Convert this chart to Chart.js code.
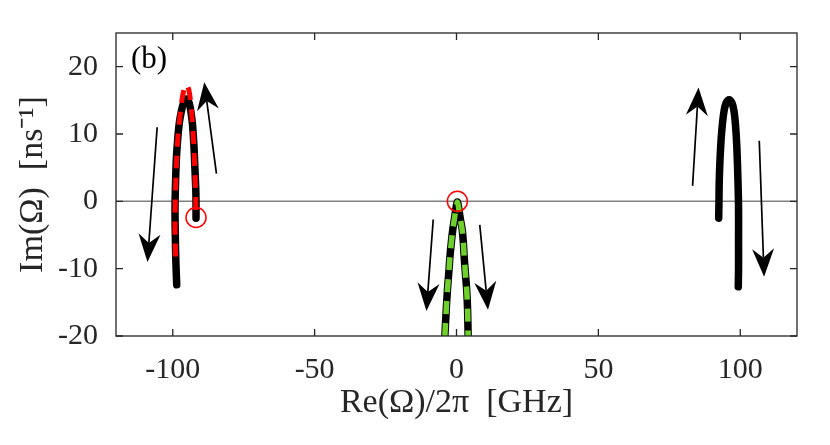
<!DOCTYPE html>
<html><head><meta charset="utf-8">
<script src="https://cdn.jsdelivr.net/npm/chart.js@4.4.1/dist/chart.umd.min.js"></script>
<style>html,body{margin:0;padding:0;background:#fff;}</style>
</head><body>
<canvas id="c" width="830" height="445"></canvas>
<script>
const xTicks = [-100, -50, 0, 50, 100];
const yTicks = [-20, -10, 0, 10, 20];
const xRange = [-120, 120];
const yRange = [-20, 25];

const leftBlack = [[-98.6,-12.4],[-98.9,-9],[-99.1,-5],[-99.2,-1],[-99.0,3],[-98.7,6.5],[-98.2,9.5],[-97.7,11.6],[-97.0,13.3],[-96.1,14.7],[-95.1,15.2],[-94.2,14.6],[-93.5,13.0],[-93.0,11.2],[-92.5,8.0],[-92.2,5.0],[-91.9,2.0],[-91.8,0],[-91.8,-2.5]];
const leftRed = [[-99.0,-8.2],[-99.2,-4],[-99.1,0],[-98.8,4.5],[-98.2,9.5],[-97.6,12],[-96.9,14.6],[-96.1,16.5],[-95.2,17.3],[-94.3,16.5],[-93.6,14.3],[-93.1,11.8],[-92.6,8.5],[-92.2,4.5],[-91.9,0.5],[-91.9,-2.2]];
const centerBlack = [[-4.1,-20],[-3.6,-16],[-3.2,-13.2],[-2.7,-10.5],[-2.3,-8.2],[-1.8,-6],[-1.3,-4.2],[-0.7,-2.5],[-0.1,-0.8],[0.3,-0.1],[0.7,-0.8],[1.3,-2.5],[2.0,-4.2],[2.4,-6],[2.7,-8.2],[3.1,-10.5],[3.6,-13.2],[3.9,-16],[4.1,-20]];
const centerGreen = [[-4.1,-20],[-3.6,-16],[-3.2,-13.2],[-2.7,-10.5],[-2.3,-8.2],[-1.8,-6],[-1.3,-4.2],[-0.7,-2.5],[-0.1,-0.8],[0.3,-0.1],[0.7,-0.8],[1.3,-2.5],[2.0,-4.2],[2.4,-6],[2.7,-8.2],[3.1,-10.5],[3.6,-13.2],[3.9,-16],[4.1,-20]];
const rightBlack = [[92.4,-2.5],[92.5,0],[92.6,3],[92.9,6.5],[93.4,10],[94.2,13.2],[95.0,14.6],[96.1,15.1],[97.1,14.6],[97.8,13.4],[98.3,11.5],[98.8,8],[99.2,3],[99.4,-1],[99.4,-6],[99.4,-10],[99.3,-12.7]];
const markers = [[-91.8,-2.4],[0.3,0]];
// arrows: [xStart, yStart, xTip, yTip]
const arrows = [[-105.5,11,-108.9,-9],[-84.6,4.1,-88.9,17.7],[-8.2,-2.7,-10.6,-16.3],[8.2,-3.5,11.1,-16.1],[83.2,2.3,85.3,16.9],[106.7,9,108.4,-11.2]];
const panelLabel = '(b)';

const toPts = a => a.map(p => ({x: p[0], y: p[1]}));
const FONT = '"Liberation Serif", "Times New Roman", serif';

const decor = {
  id: 'decor',
  beforeDatasetsDraw(chart) {
    const {ctx, chartArea: a, scales: {x, y}} = chart;
    ctx.save();
    ctx.strokeStyle = '#808080'; ctx.lineWidth = 1.5;
    const y0 = y.getPixelForValue(0);
    ctx.beginPath(); ctx.moveTo(a.left, y0); ctx.lineTo(a.right, y0); ctx.stroke();
    ctx.restore();
  },
  afterDatasetsDraw(chart) {
    const {ctx, chartArea: a, scales: {x, y}} = chart;
    ctx.save();
    ctx.strokeStyle = '#000'; ctx.fillStyle = '#000'; ctx.lineWidth = 1.7;
    const L = 28, W = 22, N = 0.68;
    for (const ar of arrows) {
      const x1 = x.getPixelForValue(ar[0]), y1 = y.getPixelForValue(ar[1]);
      const x2 = x.getPixelForValue(ar[2]), y2 = y.getPixelForValue(ar[3]);
      const len = Math.hypot(x2 - x1, y2 - y1);
      const dx = (x2 - x1) / len, dy = (y2 - y1) / len;
      const px = -dy, py = dx;
      const nx = x2 - dx * L * N, ny = y2 - dy * L * N;
      ctx.beginPath(); ctx.moveTo(x1, y1); ctx.lineTo(nx, ny); ctx.stroke();
      ctx.beginPath();
      ctx.moveTo(x2, y2);
      ctx.lineTo(x2 - dx * L + px * W / 2, y2 - dy * L + py * W / 2);
      ctx.lineTo(nx, ny);
      ctx.lineTo(x2 - dx * L - px * W / 2, y2 - dy * L - py * W / 2);
      ctx.closePath(); ctx.fill();
    }
    ctx.strokeStyle = '#262626'; ctx.lineWidth = 1.3;
    ctx.strokeRect(a.left, a.top, a.right - a.left, a.bottom - a.top);
    const T = 7;
    ctx.beginPath();
    for (const v of xTicks) {
      const p = x.getPixelForValue(v);
      ctx.moveTo(p, a.bottom); ctx.lineTo(p, a.bottom - T);
      ctx.moveTo(p, a.top); ctx.lineTo(p, a.top + T);
    }
    for (const v of yTicks) {
      const p = y.getPixelForValue(v);
      ctx.moveTo(a.left, p); ctx.lineTo(a.left + T, p);
      ctx.moveTo(a.right, p); ctx.lineTo(a.right - T, p);
    }
    ctx.stroke();
    ctx.fillStyle = '#000';
    ctx.font = '31px ' + FONT;
    ctx.textBaseline = 'alphabetic'; ctx.textAlign = 'left';
    ctx.fillText(panelLabel, a.left + 15, a.top + 35);
    ctx.restore();
  }
};

const lineDs = (data, color, width, dash, order, cap) => ({
  data: toPts(data), showLine: true, fill: false, borderColor: color, borderWidth: width,
  borderDash: dash, pointRadius: 0, tension: 0.35, order: order,
  borderCapStyle: cap, borderJoinStyle: 'round'
});

new Chart(document.getElementById('c'), {
  type: 'scatter',
  data: {
    datasets: [
      {data: toPts(markers), pointRadius: 10, pointHoverRadius: 10, pointBorderColor: '#ff0000',
       pointBackgroundColor: 'rgba(0,0,0,0)', pointBorderWidth: 1.5, showLine: false, order: 0},
      lineDs(leftRed, '#ff0000', 5, [13, 9], 1, 'butt'),
      lineDs(centerGreen, '#6fcf2b', 5.5, [13, 9], 1, 'butt'),
      lineDs(leftBlack, '#000000', 7.5, [], 2, 'round'),
      lineDs(centerBlack, '#000000', 7.5, [], 2, 'round'),
      lineDs(rightBlack, '#000000', 7.5, [], 2, 'round')
    ]
  },
  options: {
    responsive: false, animation: false,
    layout: {padding: {top: 33, right: 33, left: 0, bottom: 0}},
    plugins: {legend: {display: false}, tooltip: {enabled: false}},
    scales: {
      x: {
        type: 'linear', min: xRange[0], max: xRange[1],
        afterBuildTicks: s => { s.ticks = xTicks.map(v => ({value: v})); },
        afterFit: s => { s.height = 109; },
        grid: {display: false}, border: {display: false},
        ticks: {color: '#262626', font: {family: FONT, size: 30}, padding: 8, maxRotation: 0},
        title: {display: true, text: 'Re(Ω)/2π  [GHz]', color: '#262626',
                font: {family: FONT, size: 34}, padding: {top: 0, bottom: 22}}
      },
      y: {
        type: 'linear', min: yRange[0], max: yRange[1],
        afterBuildTicks: s => { s.ticks = yTicks.map(v => ({value: v})); },
        afterFit: s => { s.width = 116; },
        grid: {display: false}, border: {display: false},
        ticks: {color: '#262626', font: {family: FONT, size: 30}, padding: 10},
        title: {display: true, text: 'Im(Ω)  [ns⁻¹]', color: '#262626',
                font: {family: FONT, size: 34}, padding: {top: 13, bottom: 0}}
      }
    }
  },
  plugins: [decor]
});
</script>
</body></html>
